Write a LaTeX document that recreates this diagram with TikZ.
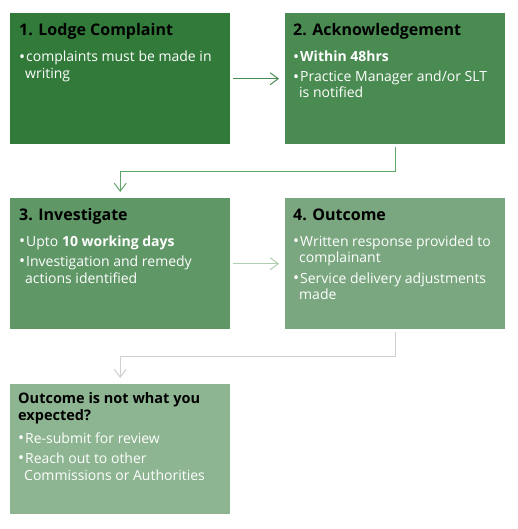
\documentclass[tikz,border=0pt]{standalone}
\usepackage{fontspec}
\setmainfont{Open Sans}
\usetikzlibrary{arrows.meta}
\definecolor{cA}{RGB}{49,122,58}
\definecolor{cB}{RGB}{74,139,82}
\definecolor{cC}{RGB}{96,151,103}
\definecolor{cD}{RGB}{122,167,127}
\definecolor{cE}{RGB}{141,181,145}
\definecolor{aA}{RGB}{70,140,80}
\definecolor{aB}{RGB}{95,165,105}
\definecolor{aC}{RGB}{175,205,175}
\definecolor{aD}{RGB}{205,208,205}
\newcommand{\bul}{\makebox[7pt][l]{\raisebox{-0.3pt}{\fontsize{16}{17}\selectfont •}}}
\begin{document}
\begin{tikzpicture}[x=1pt,y=-1pt,
  box/.style={draw=none,rectangle,minimum width=220pt,minimum height=131pt,inner sep=0pt,anchor=north west},
  ttl/.style={anchor=base west,inner sep=0pt,font=\fontsize{16}{19}\selectfont\bfseries,text=black},
  ttlsm/.style={anchor=base west,inner sep=0pt,font=\fontsize{14.5}{17}\selectfont\bfseries,text=black},
  bod/.style={anchor=base west,inner sep=0pt,font=\fontsize{14}{17}\selectfont,text=white},
  conn/.style={line width=1pt,-{Straight Barb[length=8pt,width=12pt,line width=1pt]},shorten <=3pt,shorten >=6pt}]
\useasboundingbox[fill=white] (0,0) rectangle (517,529);
% boxes
\node[box,fill=cA] (b1) at (10,13) {};
\node[box,fill=cB] (b2) at (285,13) {};
\node[box,fill=cC] (b3) at (10,198) {};
\node[box,fill=cD] (b4) at (285,198) {};
\node[box,fill=cE,minimum height=130pt] (b5) at (10,384) {};
% box 1
\node[ttl] (t1) at (19,36) {1. Lodge Complaint};
\node[bod] (t1a) at (19,62) {\bul complaints must be made in};
\node[bod] (t1b) at (25,79) {writing};
% box 2
\node[ttl] (t2) at (293,36) {2. Acknowledgement};
\node[bod] (t2a) at (293,62) {\bul\textbf{Within 48hrs}};
\node[bod] (t2b) at (293,82) {\bul Practice Manager and/or SLT};
\node[bod] (t2c) at (299,98) {is notified};
% box 3
\node[ttl] (t3) at (19,220) {3. Investigate};
\node[bod] (t3a) at (19,246) {\bul Upto \textbf{10 working days}};
\node[bod] (t3b) at (19,266) {\bul Investigation and remedy};
\node[bod] (t3c) at (25,283) {actions identified};
% box 4
\node[ttl] (t4) at (293,220) {4. Outcome};
\node[bod] (t4a) at (293,246) {\bul Written response provided to};
\node[bod] (t4b) at (299,262) {complainant};
\node[bod] (t4c) at (293,283) {\bul Service delivery adjustments};
\node[bod] (t4d) at (299,299) {made};
% box 5
\node[ttlsm] (t5) at (18,403) {Outcome is not what you};
\node[ttlsm] (t5b) at (18,420) {expected?};
\node[bod] (t5c) at (18,443) {\bul Re-submit for review};
\node[bod] (t5d) at (18,463) {\bul Reach out to other};
\node[bod] (t5e) at (24,480) {Commissions or Authorities};
% connectors
\draw[conn,aA] (b1.east) -- (b2.west);
\draw[conn,aB] (b2.south) -- ++(0,27) -| (b3.north);
\draw[conn,aC] (b3.east) -- (b4.west);
\draw[conn,aD] (b4.south) -- ++(0,27) -| (b5.north);
\end{tikzpicture}
\end{document}
